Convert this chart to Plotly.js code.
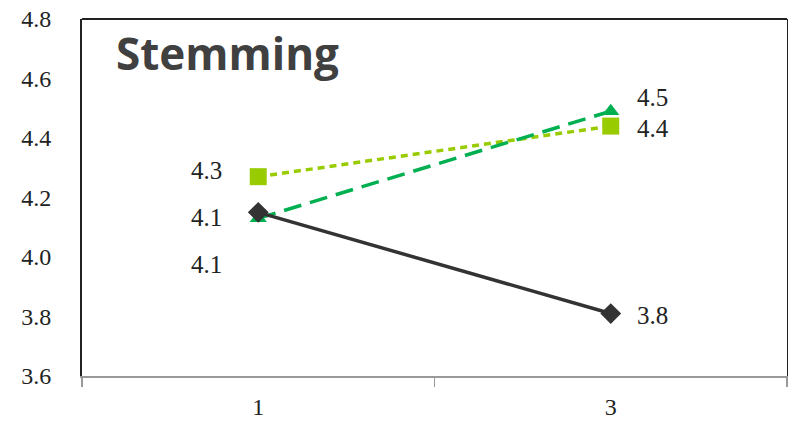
<!DOCTYPE html>
<html>
<head>
<meta charset="utf-8">
<script src="https://cdn.plot.ly/plotly-3.0.1.min.js"></script>
<style>html,body{margin:0;padding:0;background:#fff;}#chart{width:788px;height:424px;}</style>
</head>
<body>
<div id="chart"></div>
<script>
// Data
var categories = ["1", "3"];
var seriesA = [4.15, 3.81];      // black solid, diamonds
var seriesB = [4.13, 4.49];      // green long dash, triangles
var seriesC = [4.27, 4.44];      // light green short dash, squares
var labelsA = ["4.1", "3.8"];
var labelsB = ["4.1", "4.5"];
var labelsC = ["4.3", "4.4"];
var yTicks = [3.6, 3.8, 4.0, 4.2, 4.4, 4.6, 4.8];
var yTickText = ["3.6", "3.8", "4.0", "4.2", "4.4", "4.6", "4.8"];
var chartTitle = "Stemming";

var serif = "Liberation Serif, Times New Roman, serif";

var traces = [
  {x: categories, y: seriesC, type: "scatter", mode: "lines+markers",
   line: {color: "#99CC00", width: 3.5, dash: "7px,5px"},
   marker: {symbol: "square", size: 17, color: "#99CC00"}},
  {x: categories, y: seriesB, type: "scatter", mode: "lines+markers",
   line: {color: "#00B050", width: 3.5, dash: "18px,9px"},
   marker: {symbol: "triangle-up", size: 15, color: "#00B050"}},
  {x: categories, y: seriesA, type: "scatter", mode: "lines+markers",
   line: {color: "#333333", width: 3.5},
   marker: {symbol: "diamond", size: 16, color: "#333333"}}
];

var lblFont = {family: serif, size: 25, color: "#222"};
var annotations = [];
// annotations on a category axis use the category index
// left-side labels (category index 0)
annotations.push({x: 0, y: seriesC[0], text: labelsC[0], showarrow: false, xanchor: "right", xshift: -34, yshift: 6, font: lblFont});
annotations.push({x: 0, y: seriesA[0], text: labelsA[0], showarrow: false, xanchor: "right", xshift: -34, yshift: -5, font: lblFont});
annotations.push({x: 0, y: seriesB[0], text: labelsB[0], showarrow: false, xanchor: "right", xshift: -34, yshift: -46, font: lblFont});
// right-side labels (category index 1)
annotations.push({x: 1, y: seriesB[1], text: labelsB[1], showarrow: false, xanchor: "left", xshift: 24, yshift: 14, font: lblFont});
annotations.push({x: 1, y: seriesC[1], text: labelsC[1], showarrow: false, xanchor: "left", xshift: 24, yshift: -2, font: lblFont});
annotations.push({x: 1, y: seriesA[1], text: labelsA[1], showarrow: false, xanchor: "left", xshift: 24, yshift: -2, font: lblFont});
// title inside plot
annotations.push({xref: "paper", yref: "paper", x: 0.045, y: 0.995, xanchor: "left", yanchor: "top",
  text: "<b>" + chartTitle + "</b>", showarrow: false,
  font: {family: "Open Sans, Noto Sans, sans-serif", size: 44, color: "#404040"}});

var layout = {
  width: 788, height: 424,
  margin: {l: 82, r: 1, t: 19, b: 48},
  paper_bgcolor: "#fff", plot_bgcolor: "#fff",
  showlegend: false,
  xaxis: {type: "category", range: [-0.5, 1.5], tickson: "boundaries",
    ticks: "outside", ticklen: 9, tickwidth: 1.5, tickcolor: "#999",
    showline: true, linecolor: "#999", linewidth: 2, showgrid: false, zeroline: false,
    tickfont: {family: serif, size: 24, color: "#222"}, ticklabelstandoff: 8},
  yaxis: {range: [3.6, 4.8], tickvals: yTicks, ticktext: yTickText,
    ticks: "outside", ticklen: 24, tickcolor: "rgba(0,0,0,0)",
    showline: true, linecolor: "#222", linewidth: 2, mirror: true,
    showgrid: false, zeroline: false,
    tickfont: {family: serif, size: 24, color: "#222"}},
  shapes: [{type: "line", xref: "paper", yref: "paper", x0: 0, x1: 1, y0: 1, y1: 1,
    line: {color: "#222", width: 2}}],
  annotations: annotations
};

Plotly.newPlot("chart", traces, layout, {displayModeBar: false, staticPlot: true});
</script>
</body>
</html>
